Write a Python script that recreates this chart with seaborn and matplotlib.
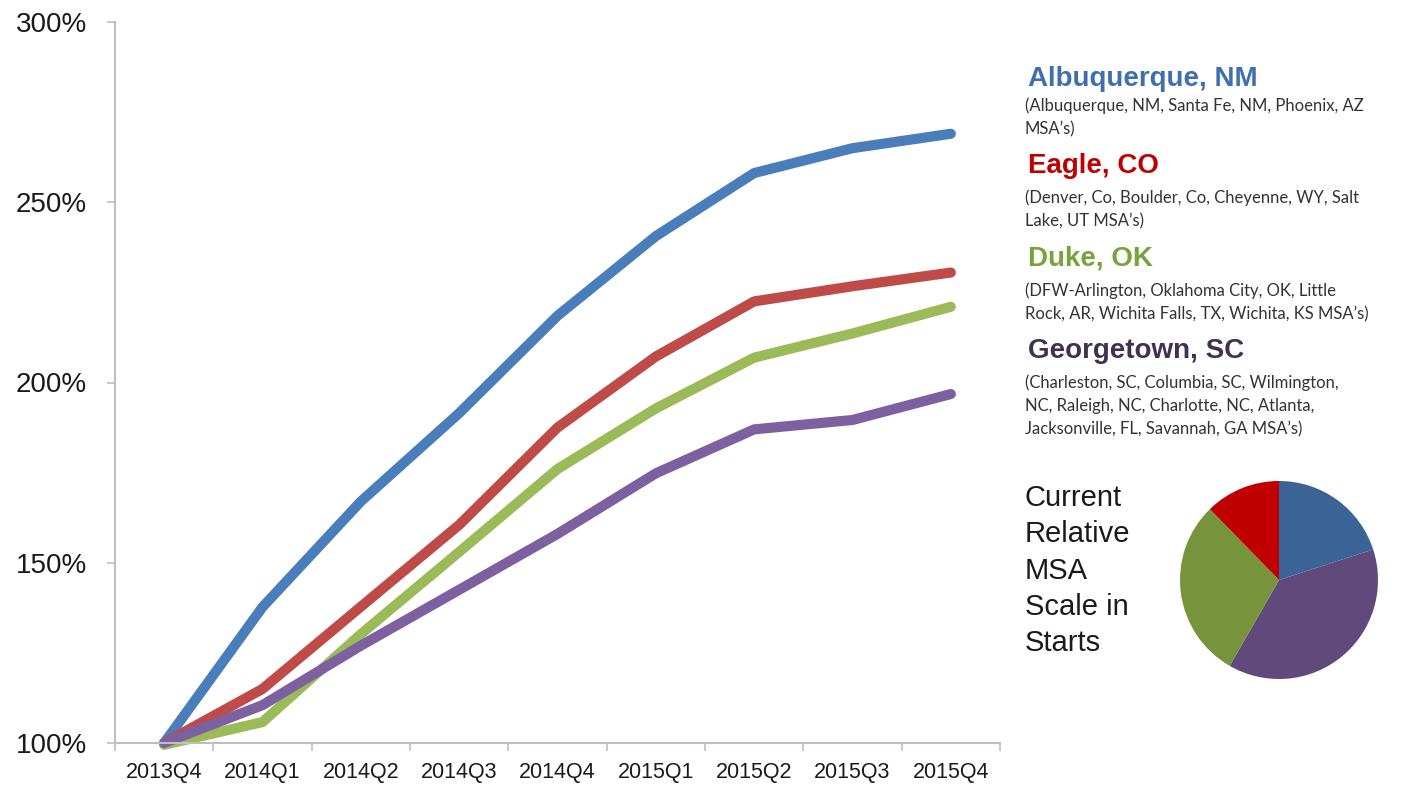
import pandas as pd
import numpy as np
import seaborn as sns
import matplotlib.pyplot as plt
from matplotlib.ticker import FixedLocator, NullFormatter

quarters = ['2013Q4', '2014Q1', '2014Q2', '2014Q3', '2014Q4',
            '2015Q1', '2015Q2', '2015Q3', '2015Q4']

albuquerque = [100, 137.7, 167, 191.5, 218.5, 240.6, 258.1, 265, 269]
eagle = [100, 115, 137.8, 160.5, 187.5, 207.2, 222.5, 226.7, 230.5]
duke = [99.5, 105.8, 130.2, 153, 176, 192.8, 206.9, 213.6, 221]
georgetown = [100, 110.5, 127, 142.5, 158, 174.8, 187, 189.6, 196.8]

series_names = ['Albuquerque, NM', 'Eagle, CO', 'Duke, OK', 'Georgetown, SC']
line_colors = ['#4A7EBB', '#BE4B48', '#9BBB59', '#7D60A0']
title_colors = ['#3F6FAE', '#C00000', '#77A33C', '#3F3151']

sub_texts = [
    '(Albuquerque, NM, Santa Fe, NM, Phoenix, AZ\nMSA\u2019s)',
    '(Denver, Co, Boulder, Co, Cheyenne, WY, Salt\nLake, UT MSA\u2019s)',
    '(DFW-Arlington, Oklahoma City, OK, Little\nRock, AR, Wichita Falls, TX, Wichita, KS MSA\u2019s)',
    '(Charleston, SC, Columbia, SC, Wilmington,\nNC, Raleigh, NC, Charlotte, NC, Atlanta,\nJacksonville, FL, Savannah, GA MSA\u2019s)',
]

# pie: current relative MSA scale in starts (clockwise from top)
pie_labels = ['Albuquerque, NM', 'Georgetown, SC', 'Duke, OK', 'Eagle, CO']
pie_values = [20, 38.3, 29.4, 12.3]
pie_colors = ['#3A6396', '#604A7B', '#77933C', '#C00000']

df = pd.DataFrame({
    'quarter': quarters * 4,
    'pos': list(range(len(quarters))) * 4,
    'value': albuquerque + eagle + duke + georgetown,
    'series': sum([[s] * len(quarters) for s in series_names], []),
})

sns.set_style("white")
plt.rcParams['font.family'] = ['Liberation Sans', 'DejaVu Sans']

fig = plt.figure(figsize=(14.1, 7.85), dpi=100)
ax = fig.add_axes([115 / 1410, 42 / 785, 885 / 1410, 721 / 785])

sns.lineplot(data=df, x='pos', y='value', hue='series', hue_order=series_names,
             palette=line_colors, linewidth=7.3, ax=ax, legend=False,
             clip_on=False, solid_capstyle='round', solid_joinstyle='round')

ax.set_xlim(-0.5, len(quarters) - 0.5)
ax.set_ylim(100, 300)
ax.set_xlabel('')
ax.set_ylabel('')

# x axis: labels at centres, tick marks on category boundaries
ax.xaxis.set_major_locator(FixedLocator(range(len(quarters))))
ax.set_xticklabels(quarters, fontsize=15.5, color='#1a1a1a')
ax.xaxis.set_minor_locator(FixedLocator(np.arange(-0.5, len(quarters), 1)))
ax.xaxis.set_minor_formatter(NullFormatter())
ax.tick_params(axis='x', which='major', length=0, pad=14)
ax.tick_params(axis='x', which='minor', length=6, width=1.2, color='#BFBFBF',
               direction='out', bottom=True)

ax.set_yticks([100, 150, 200, 250, 300])
ax.set_yticklabels([f'{v}%' for v in [100, 150, 200, 250, 300]],
                   fontsize=20, color='#1a1a1a')
ax.tick_params(axis='y', length=6, width=1.2, color='#BFBFBF', direction='out',
               left=True, pad=14)

for side in ['top', 'right']:
    ax.spines[side].set_visible(False)
for side in ['left', 'bottom']:
    ax.spines[side].set_color('#BFBFBF')
    ax.spines[side].set_linewidth(1.5)

# legend-style annotations on the right
title_y = [79, 166, 259, 351]
sub_y = [97, 189, 282, 374]
for name, color, sub, ty, sy in zip(series_names, title_colors, sub_texts,
                                    title_y, sub_y):
    fig.text(1028 / 1410, 1 - ty / 785, name, color=color, fontsize=20,
             fontweight='bold', va='center', ha='left')
    fig.text(1025 / 1410, 1 - sy / 785, sub, color='#333333',
             fontsize=12, va='top', ha='left', linespacing=1.58,
             family=['Lato', 'DejaVu Sans'])

fig.text(1025 / 1410, 1 - 484 / 785, 'Current\nRelative\nMSA\nScale in\nStarts',
         fontsize=21, color='#1a1a1a', va='top', ha='left', linespacing=1.38)

pax = fig.add_axes([1180 / 1410, (785 - 679) / 785, 198 / 1410, 198 / 785])
pax.pie(pie_values, colors=pie_colors, startangle=90, counterclock=False,
        wedgeprops={'linewidth': 0})
pax.set_xlim(-1, 1)
pax.set_ylim(-1, 1)
pax.set_aspect('equal')

fig.savefig('out.png', dpi=100)
